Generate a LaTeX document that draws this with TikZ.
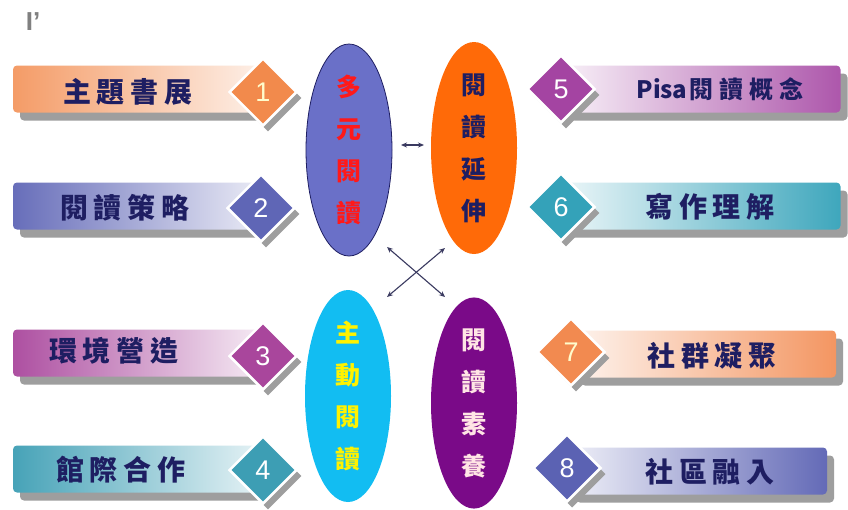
\documentclass[tikz,border=0pt]{standalone}
\usepackage{fontspec}
\setmainfont{Liberation Sans}
\newfontfamily\cjk{Noto Sans CJK TC}
\usetikzlibrary{shapes.geometric,shadows,arrows.meta}
\definecolor{navy}{HTML}{1E1E62}
\definecolor{d1}{HTML}{F28A4C}
\definecolor{d2}{HTML}{5F66B6}
\definecolor{d3}{HTML}{A9469C}
\definecolor{d4}{HTML}{3D9EB4}
\definecolor{d5}{HTML}{A444A2}
\definecolor{d6}{HTML}{34A2B9}
\definecolor{d7}{HTML}{F28A50}
\definecolor{d8}{HTML}{5B62B3}
\definecolor{eblue}{HTML}{6A70C8}
\definecolor{eorange}{HTML}{FF6A08}
\definecolor{ecyan}{HTML}{12BDF2}
\definecolor{epurple}{HTML}{7A0A88}
\definecolor{arrc}{HTML}{3A3A60}
\newcommand\g{\kern6pt}
\begin{document}
\begin{tikzpicture}[x=1pt,y=-1pt,
  bar/.style={rectangle, rounded corners=4pt, minimum height=47pt, inner sep=0pt,
    drop shadow={shadow xshift=7pt, shadow yshift=-8pt, fill=black!38, opacity=1}},
  num/.style={diamond, minimum width=68pt, minimum height=68pt, inner sep=0pt,
    draw=white, line width=2.5pt, text=white, font=\fontsize{27}{27}\selectfont,
    drop shadow={shadow xshift=5pt, shadow yshift=-6pt, fill=black!38, opacity=1}},
  lbl/.style={font=\cjk\bfseries\fontsize{28}{28}\selectfont, text=navy, inner sep=0pt},
  ell/.style={ellipse, minimum width=86pt, minimum height=212pt, inner sep=0pt,
    align=center, font=\cjk\bfseries\fontsize{25}{42}\selectfont},
  arr/.style={arrc, line width=1.1pt, {Stealth[length=6pt,width=5pt]}-{Stealth[length=6pt,width=5pt]}}
]
\useasboundingbox (0,0) rectangle (848,509);
\fill[white] (0,0) rectangle (848,509);

\node[text=black!50, font=\rmfamily\bfseries\fontsize{26}{26}\selectfont] (mark) at (33,22) {I'};

% left bars
\node[bar, minimum width=252pt, left color=d1!85, right color=d1!12] (b1) at (139,89) {};
\node[bar, minimum width=252pt, left color=d2!95, right color=d2!12] (b2) at (139,206) {};
\node[bar, minimum width=252pt, left color=d3!95, right color=d3!10] (b3) at (139,353) {};
\node[bar, minimum width=252pt, left color=d4!95, right color=d4!12] (b4) at (139,469) {};
% right bars
\node[bar, minimum width=277pt, left color=d5!8, right color=d5!90] (b5) at (702,89) {};
\node[bar, minimum width=277pt, left color=d6!10, right color=d6!95] (b6) at (702,206) {};
\node[bar, minimum width=262pt, left color=d7!10, right color=d7!90] (b7) at (705,354) {};
\node[bar, minimum width=258pt, left color=d8!10, right color=d8!95] (b8) at (698,471) {};

% labels
\node[lbl] (t1) at (128,92) {主\g 題\g 書\g 展};
\node[lbl] (t2) at (125,208) {閱\g 讀\g 策\g 略};
\node[lbl] (t3) at (114,351) {環\g 境\g 營\g 造};
\node[lbl] (t4) at (121,470) {館\g 際\g 合\g 作};
\node[lbl] (t5) at (720,89) {\fontsize{24}{24}\selectfont Pisa\kern2pt 閱\g 讀\g 概\g 念};
\node[lbl] (t6) at (710,207) {寫\g 作\g 理\g 解};
\node[lbl] (t7) at (712,356) {社\g 群\g 凝\g 聚};
\node[lbl] (t8) at (710,472) {社\g 區\g 融\g 入};

% diamonds
\node[num, fill=d1, text=yellow!20] (n1) at (263,92) {1};
\node[num, fill=d2] (n2) at (261,208) {2};
\node[num, fill=d3] (n3) at (263,356) {3};
\node[num, fill=d4] (n4) at (263,470) {4};
\node[num, fill=d5] (n5) at (561,89) {5};
\node[num, fill=d6] (n6) at (561,207) {6};
\node[num, fill=d7, text=yellow!20] (n7) at (571,352) {7};
\node[num, fill=d8] (n8) at (567,468) {8};

% ellipses
\node[ell, fill=eblue, draw=navy, line width=0.8pt, text=red!90] (e1) at (349,150) {多\\元\\閱\\讀};
\node[ell, fill=eorange, text=navy] (e2) at (474,148) {閱\\讀\\延\\伸};
\node[ell, fill=ecyan, text=yellow] (e3) at (348,396) {主\\動\\閱\\讀};
\node[ell, fill=epurple, minimum height=208pt, text=pink!40] (e4) at (474,403) {閱\\讀\\素\\養};

% arrows
\coordinate (h1) at (401,145);
\coordinate (h2) at (424,145);
\coordinate (x1) at (387,247);
\coordinate (x2) at (445,297);
\coordinate (x3) at (445,248);
\coordinate (x4) at (387,297);
\draw[arr] (h1) -- (h2);
\draw[arr] (x1) -- (x2);
\draw[arr] (x3) -- (x4);
\end{tikzpicture}
\end{document}
